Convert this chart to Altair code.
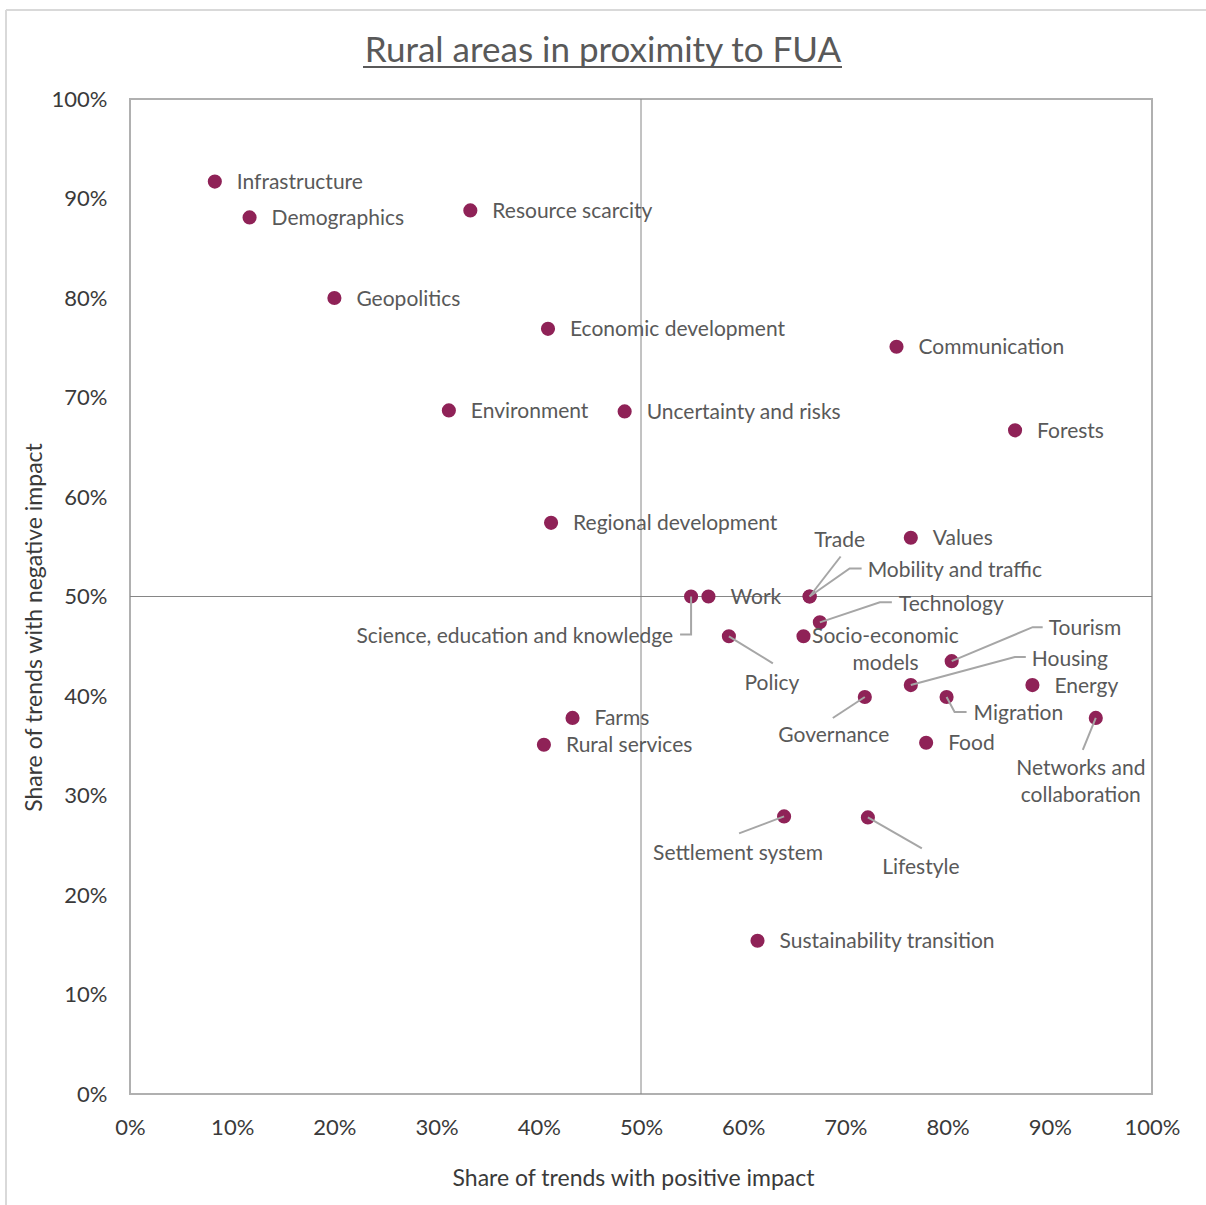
import altair as alt
import pandas as pd

# ---- data: share of trends with positive / negative impact per topic ----
names = [
    "Infrastructure", "Demographics", "Resource scarcity", "Geopolitics",
    "Economic development", "Communication", "Environment",
    "Uncertainty and risks", "Forests", "Regional development", "Values",
    "Science, education and knowledge", "Work", "Trade", "Mobility and traffic",
    "Technology", "Socio-economic models", "Policy", "Tourism", "Housing",
    "Energy", "Governance", "Migration", "Farms", "Networks and collaboration",
    "Rural services", "Food", "Settlement system", "Lifestyle",
    "Sustainability transition",
]
positive_share = [
    0.083, 0.117, 0.333, 0.200, 0.409, 0.750, 0.312, 0.484, 0.866, 0.412,
    0.764, 0.549, 0.566, 0.665, 0.665, 0.675, 0.659, 0.586, 0.804, 0.764,
    0.883, 0.719, 0.799, 0.433, 0.945, 0.405, 0.779, 0.640, 0.722, 0.614,
]
negative_share = [
    0.917, 0.881, 0.888, 0.800, 0.769, 0.751, 0.687, 0.686, 0.667, 0.574,
    0.559, 0.500, 0.500, 0.500, 0.500, 0.474, 0.460, 0.460, 0.435, 0.411,
    0.411, 0.399, 0.399, 0.378, 0.378, 0.351, 0.353, 0.279, 0.278, 0.154,
]
display_text = {
    "Socio-economic models": "Socio-economic\nmodels",
    "Networks and collaboration": "Networks and\ncollaboration",
}
tick_values = [i / 10 for i in range(11)]

# ---- layout ----
W, H = 1022, 995
FONT = "Lato"
POINT_COLOR = "#8f2257"
TEXT_COLOR = "#595959"
AXIS_TEXT = "#3a3a3a"
LEADER_COLOR = "#a6a6a6"

# label anchor offsets in pixels from the point: (dx, dy, align);
# for two-line labels dy places the first line
DEFAULT_LABEL = (22, 0, "left")
label_layout = {
    "Trade": (30, -57, "center"),
    "Mobility and traffic": (58, -27, "left"),
    "Technology": (79, -19, "left"),
    "Socio-economic models": (82, -1, "center"),
    "Policy": (43, 46, "center"),
    "Science, education and knowledge": (-18, 39, "right"),
    "Tourism": (97, -34, "left"),
    "Housing": (121, -27, "left"),
    "Governance": (-31, 38, "center"),
    "Migration": (27, 16, "left"),
    "Networks and collaboration": (-15, 50, "center"),
    "Settlement system": (-46, 36, "center"),
    "Lifestyle": (53, 49, "center"),
}
# leader-line vertices in pixels from the point
leader_paths = {
    "Trade": [(0, 0), (31, -40)],
    "Mobility and traffic": [(0, 0), (40, -28), (52, -28)],
    "Technology": [(0, 0), (60, -20), (72, -20)],
    "Policy": [(0, 0), (44, 27)],
    "Science, education and knowledge": [(0, 0), (0, 38), (-11, 38)],
    "Tourism": [(0, 0), (81, -34), (91, -34)],
    "Housing": [(0, 0), (104, -28), (115, -28)],
    "Governance": [(0, 0), (-32, 21)],
    "Migration": [(0, 0), (8, 15), (20, 15)],
    "Networks and collaboration": [(0, 0), (-13, 32)],
    "Settlement system": [(0, 0), (-45, 17)],
    "Lifestyle": [(0, 0), (54, 31)],
}

points = pd.DataFrame({"name": names, "pos": positive_share, "neg": negative_share})

label_rows = []
for n, px, ny in zip(names, positive_share, negative_share):
    dx, dy, align = label_layout.get(n, DEFAULT_LABEL)
    label_rows.append({
        "name": n, "text": display_text.get(n, n), "align": align,
        "lx": px + dx / W, "ly": ny - dy / H,
    })
labels = pd.DataFrame(label_rows)

leader_rows = []
for n, path in leader_paths.items():
    i = names.index(n)
    for k, (dx, dy) in enumerate(path):
        leader_rows.append({
            "name": n, "seq": k,
            "px": positive_share[i] + dx / W, "py": negative_share[i] - dy / H,
        })
leaders = pd.DataFrame(leader_rows)

xs = alt.Scale(domain=[0, 1], nice=False, zero=False)
ys = alt.Scale(domain=[0, 1], nice=False, zero=False)

x_axis = alt.Axis(
    values=tick_values, format=".0%", grid=False, ticks=False, tickSize=0,
    domain=False, labelFlush=False, labelOverlap=False, labelPadding=23,
    labelFontSize=22, labelFont=FONT, labelColor=AXIS_TEXT,
    title="Share of trends with positive impact", titleFont=FONT,
    titleFontSize=23, titleFontWeight="normal", titleColor=AXIS_TEXT,
    titleX=503, titleY=84, titleAlign="center", titleBaseline="middle",
)
y_axis = alt.Axis(
    values=tick_values, format=".0%", grid=False, ticks=False, tickSize=0,
    domain=False, labelFlush=False, labelOverlap=False, labelPadding=23,
    labelFontSize=22, labelFont=FONT, labelColor=AXIS_TEXT,
    title="Share of trends with negative impact", titleFont=FONT,
    titleFontSize=23, titleFontWeight="normal", titleColor=AXIS_TEXT,
    titleX=-96, titleY=528, titleAngle=270, titleAlign="center",
    titleBaseline="middle",
)


def X(field):
    return alt.X(field, scale=xs, axis=x_axis)


def Y(field):
    return alt.Y(field, scale=ys, axis=y_axis)


mid = pd.DataFrame({"v": [0.5]})
vline = alt.Chart(mid).mark_rule(color="#868686", strokeWidth=1).encode(x=X("v:Q"))
hline = alt.Chart(mid).mark_rule(color="#868686", strokeWidth=1).encode(y=Y("v:Q"))

dots = alt.Chart(points).mark_circle(size=200, color=POINT_COLOR, opacity=1).encode(
    x=X("pos:Q"),
    y=Y("neg:Q"),
    tooltip=["name:N", alt.Tooltip("pos:Q", format=".0%"), alt.Tooltip("neg:Q", format=".0%")],
)

leader_lines = alt.Chart(leaders).mark_line(color=LEADER_COLOR, strokeWidth=2).encode(
    x=X("px:Q"),
    y=Y("py:Q"),
    detail="name:N",
    order="seq:Q",
)


def text_layer(align):
    return alt.Chart(labels[labels["align"] == align]).mark_text(
        align=align, baseline="middle", font=FONT, fontSize=21, dy=1.5,
        color=TEXT_COLOR, lineBreak="\n", lineHeight=27,
    ).encode(
        x=X("lx:Q"),
        y=Y("ly:Q"),
        text="text:N",
    )


title_text = alt.Chart(mid).mark_text(
    align="center", baseline="middle", font=FONT, fontSize=35, color="#595959",
).encode(x=alt.value(473), y=alt.value(-48), text=alt.value("Rural areas in proximity to FUA"))
title_underline = alt.Chart(mid).mark_rule(color="#595959", strokeWidth=2).encode(
    x=alt.value(233), x2=alt.value(712), y=alt.value(-32))

frame_top = alt.Chart(mid).mark_rule(color="#d9d9d9", strokeWidth=2).encode(
    x=alt.value(-124), x2=alt.value(1100), y=alt.value(-89))
frame_left = alt.Chart(mid).mark_rule(color="#d9d9d9", strokeWidth=2).encode(
    x=alt.value(-124), y=alt.value(-89), y2=alt.value(1200))

chart = alt.layer(
    vline, hline, dots, leader_lines,
    text_layer("left"), text_layer("center"), text_layer("right"),
    title_text, title_underline, frame_top, frame_left,
).properties(
    width=W, height=H,
    autosize=alt.AutoSizeParams(type="none"),
    padding={"left": 130, "top": 99, "right": 54, "bottom": 111},
    background="white",
).configure_view(stroke="#b0b0b0", strokeWidth=2)

chart.save("out.html", embed_options={"renderer": "svg", "actions": False})
